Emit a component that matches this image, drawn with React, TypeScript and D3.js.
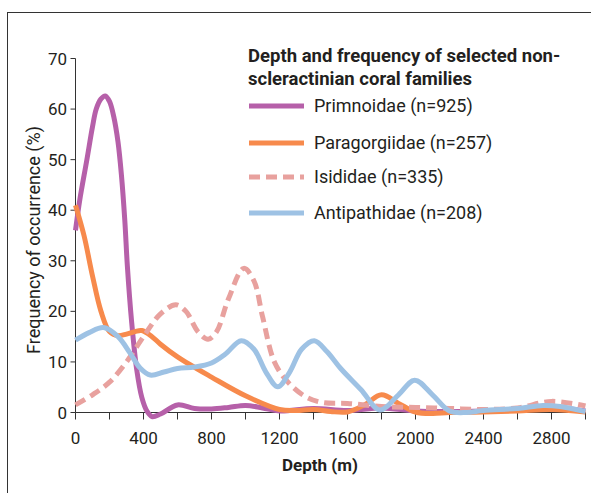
import React from "react";
import * as d3 from "d3";

const xTicks = [0, 200, 400, 600, 800, 1000, 1200, 1400, 1600, 1800, 2000, 2200, 2400, 2600, 2800, 3000];
const xTickLabels = ["0", "400", "800", "1200", "1600", "2000", "2400", "2800"];
const xLabelValues = [0, 400, 800, 1200, 1600, 2000, 2400, 2800];
const yTicks = [0, 10, 20, 30, 40, 50, 60, 70];

const primnoidae: [number, number][] = [
  [0, 36], [25, 42], [67, 50], [100, 56.5], [122, 60], [150, 62], [175, 62.6], [200, 61.5],
  [225, 58.5], [250, 53.5], [270, 47], [290, 38], [305, 29], [330, 18], [360, 8.5], [390, 3],
  [420, 0.3], [450, -0.8], [500, -0.3], [600, 1.5], [700, 0.8], [800, 0.7], [900, 1.0],
  [1000, 1.4], [1100, 0.9], [1200, 0.3], [1400, 0.8], [1600, 0.4], [1800, 0.9], [2000, 0.3],
  [2200, 0.2], [2400, 0.3], [2600, 0.5], [2800, 1.0], [3000, 0.3],
];

const paragorgiidae: [number, number][] = [
  [0, 41], [50, 35], [100, 27], [150, 20], [200, 16], [250, 15.2], [300, 15.5], [350, 16],
  [390, 16.2], [450, 15], [500, 13.5], [600, 11], [800, 7], [1000, 3.3], [1200, 0.6],
  [1300, 0.4], [1400, 0.6], [1500, 0.2], [1600, 0.1], [1700, 1.5], [1800, 3.5], [1900, 1.8],
  [2000, 0.1], [2100, -0.2], [2200, 0], [2400, 0.1], [2600, 0.3], [2800, 0.6], [3000, 0.1],
];

const isididae: [number, number][] = [
  [0, 1.5], [100, 3.5], [200, 6], [300, 10], [400, 15], [500, 19.5], [590, 21.3], [650, 20],
  [720, 16], [780, 14.5], [830, 16], [900, 22.5], [990, 28.5], [1050, 26], [1100, 19],
  [1170, 10], [1250, 6], [1350, 3.2], [1450, 2], [1600, 1.8], [1800, 1.2], [2000, 1.0],
  [2200, 0.8], [2400, 0.6], [2600, 0.9], [2800, 2.2], [3000, 1.3],
];

const antipathidae: [number, number][] = [
  [0, 14.3], [80, 15.8], [165, 16.8], [250, 15], [320, 11.8], [380, 8.8], [440, 7.4],
  [520, 8], [600, 8.7], [700, 9], [800, 9.8], [880, 11.5], [975, 14.2], [1050, 12.5],
  [1120, 8], [1190, 5.1], [1260, 8], [1330, 12.5], [1405, 14.2], [1480, 12], [1560, 8.7],
  [1680, 4.5], [1790, 0.5], [1900, 3.5], [1995, 6.4], [2100, 3.5], [2200, 0.3], [2300, 0],
  [2400, 0.4], [2600, 0.8], [2750, 1.4], [2850, 1.2], [3000, 0.2],
];

const seriesNames = ["Primnoidae (n=925)", "Paragorgiidae (n=257)", "Isididae (n=335)", "Antipathidae (n=208)"];
const seriesColors = ["#b660a9", "#f78a4c", "#e8a19e", "#9ec2e4"];
const seriesData = [primnoidae, paragorgiidae, isididae, antipathidae];
const seriesDashed = [false, false, true, false];

const legendTitle = ["Depth and frequency of selected non-", "scleractinian coral families"];

const FONT = "Roboto, 'DejaVu Sans', sans-serif";
const TEXT = "#231f20";

export default function App() {
  const left = 75.5, right = 585.5, top = 58.5, bottom = 412.5;
  const x = d3.scaleLinear().domain([0, 3000]).range([left, right]);
  const y = d3.scaleLinear().domain([0, 70]).range([bottom, top]);
  const line = d3
    .line<[number, number]>()
    .x((d) => x(d[0]))
    .y((d) => y(d[1]))
    .curve(d3.curveCatmullRom.alpha(0.5));

  const legendY = [106, 143, 177, 213];

  return (
    <svg
      width={591}
      height={493}
      style={{ position: "absolute", left: 0, top: 0, background: "#fff" }}
      fontFamily={FONT}
    >
      <rect x={7.5} y={12.5} width={640} height={520} fill="none" stroke="#333" strokeWidth={1} />

      {/* axes */}
      <line x1={left} x2={left} y1={top} y2={bottom} stroke="#333" strokeWidth={1} />
      <line x1={left} x2={right} y1={bottom} y2={bottom} stroke="#333" strokeWidth={1} />
      {yTicks.map((t) => (
        <g key={"y" + t}>
          <line x1={left - 5} x2={left} y1={y(t)} y2={y(t)} stroke="#333" />
          <text x={67} y={y(t)} dy="0.36em" textAnchor="end" fontSize={17} fill={TEXT}>
            {t}
          </text>
        </g>
      ))}
      {xTicks.map((t) => (
        <line key={"x" + t} x1={x(t)} x2={x(t)} y1={bottom} y2={bottom + 7} stroke="#333" />
      ))}
      {xLabelValues.map((t, i) => (
        <text key={"xl" + t} x={x(t)} y={444} textAnchor="middle" fontSize={17} fill={TEXT}>
          {xTickLabels[i]}
        </text>
      ))}
      <text x={320} y={471} textAnchor="middle" fontSize={17} fontWeight="bold" fill={TEXT}>
        Depth (m)
      </text>
      <text
        transform={`translate(40,240) rotate(-90)`}
        textAnchor="middle"
        fontSize={18}
        fill={TEXT}
      >
        Frequency of occurrence (%)
      </text>

      {/* series */}
      {seriesData.map((data, i) => (
        <path
          key={seriesNames[i]}
          d={line(data) || ""}
          fill="none"
          stroke={seriesColors[i]}
          strokeWidth={5}
          strokeDasharray={seriesDashed[i] ? "11 6" : undefined}
        />
      ))}

      {/* legend */}
      {legendTitle.map((t, i) => (
        <text key={t} x={248} y={62 + i * 23} fontSize={18.5} fontWeight="bold" fill={TEXT}>
          {t}
        </text>
      ))}
      {seriesNames.map((n, i) => (
        <g key={"lg" + n}>
          <line
            x1={249}
            x2={304}
            y1={legendY[i]}
            y2={legendY[i]}
            stroke={seriesColors[i]}
            strokeWidth={5}
            strokeDasharray={seriesDashed[i] ? "11 6" : undefined}
          />
          <text x={314} y={legendY[i]} dy="0.36em" fontSize={18} fill={TEXT}>
            {n}
          </text>
        </g>
      ))}
    </svg>
  );
}
